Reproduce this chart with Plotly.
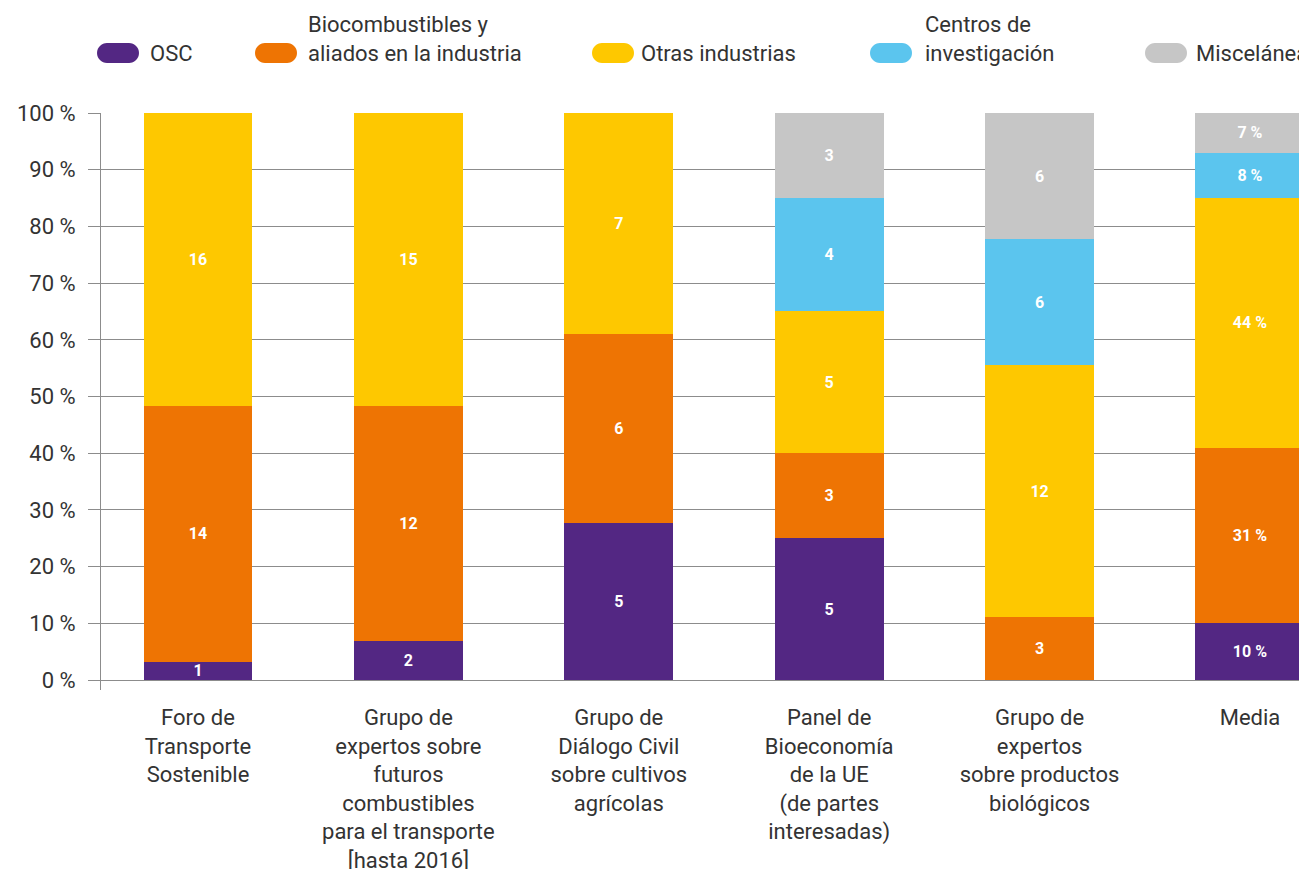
import plotly.graph_objects as go

categories = [
    "Foro de<br>Transporte<br>Sostenible",
    "Grupo de<br>expertos sobre<br>futuros<br>combustibles<br>para el transporte<br>[hasta 2016]",
    "Grupo de<br>Diálogo Civil<br>sobre cultivos<br>agrícolas",
    "Panel de<br>Bioeconomía<br>de la UE<br>(de partes<br>interesadas)",
    "Grupo de<br>expertos<br>sobre productos<br>biológicos",
    "Media",
]
series_names = ["OSC", "Biocombustibles y<br>aliados en la industria", "Otras industrias",
                "Centros de<br>investigación", "Misceláneas"]
osc = [1, 2, 5, 5, 0, 10]
biocombustibles = [14, 12, 6, 3, 3, 31]
otras = [16, 15, 7, 5, 12, 44]
centros = [0, 0, 0, 4, 6, 8]
miscelaneas = [0, 0, 0, 3, 6, 7]
values = [osc, biocombustibles, otras, centros, miscelaneas]
y_ticks = list(range(0, 101, 10))
y_tick_labels = [f"{v} %" for v in y_ticks]
colors = ["#532783", "#EE7403", "#FEC800", "#5BC5EE", "#C6C6C6"]

FONT = "Roboto"
OFF = 8  # page offset of the figure (body margin)
W, H = 1307 - OFF, 869 - OFF
PL, PR, PT, PB = 101 - OFF, 0, 113 - OFF, 179
pw, ph = W - PL - PR, H - PT - PB


def px2paper(x, y):
    # x, y are page pixel coordinates
    return (x - OFF - PL) / pw, (H - PB - (y - OFF)) / ph


def fmt(v, i):
    if v == 0:
        return ""
    return f"{v} %" if i == len(categories) - 1 else str(v)


fig = go.Figure()
xs = list(range(len(categories)))
for name, vals, col in zip(series_names, values, colors):
    fig.add_trace(go.Bar(
        x=xs, y=vals, name=name, marker=dict(color=col, line=dict(width=0)),
        text=[fmt(v, i) for i, v in enumerate(vals)],
        textposition="inside", insidetextanchor="middle", textangle=0,
        textfont=dict(family=FONT, size=16, color="white", weight="bold"),
        constraintext="none", showlegend=False,
    ))

# custom legend (pill markers)
legend_marker_x = [118, 276, 613, 891, 1166]
legend_text_x = [148, 306, 639, 923, 1194]
legend_y = 53
r = 10
half = 11
k = 0.5523 * r
pill = (f"M {-half},{-r} L {half},{-r} C {half + k},{-r} {half + r},{-k} {half + r},0 "
        f"C {half + r},{k} {half + k},{r} {half},{r} L {-half},{r} "
        f"C {-half - k},{r} {-half - r},{k} {-half - r},0 "
        f"C {-half - r},{-k} {-half - k},{-r} {-half},{-r} Z")
shapes = []
annotations = []
for name, col, mx, tx in zip(series_names, colors, legend_marker_x, legend_text_x):
    ax, ay = px2paper(mx, legend_y)
    shapes.append(dict(type="path", xref="paper", yref="paper", xsizemode="pixel",
                       ysizemode="pixel", xanchor=ax, yanchor=ay, path=pill,
                       fillcolor=col, line=dict(width=0)))
    txp, typ = px2paper(tx, legend_y + 15)
    annotations.append(dict(x=txp, y=typ, xref="paper", yref="paper", text=name,
                            showarrow=False, xanchor="left", yanchor="bottom", align="left",
                            font=dict(family=FONT, size=22, color="#333333")))

fig.update_layout(
    width=W, height=H,
    margin=dict(l=PL, r=PR, t=PT, b=PB, pad=0, autoexpand=False),
    barmode="stack", barnorm="percent", bargap=0.482,
    plot_bgcolor="white", paper_bgcolor="white",
    font=dict(family=FONT, size=22, color="#333333"),
    shapes=shapes, annotations=annotations,
    uniformtext=dict(minsize=16, mode="show"),
)
fig.update_xaxes(
    tickvals=xs, ticktext=categories, range=[-0.461, 5.271],
    showgrid=False, zeroline=False, showline=False, ticks="",
    automargin=False, ticklabelstandoff=12,
    tickfont=dict(family=FONT, size=22, color="#333333"),
)
fig.update_yaxes(
    range=[-1.76, 100], tickvals=y_ticks, ticktext=y_tick_labels,
    showgrid=True, gridcolor="#8c8c8c", gridwidth=1, zeroline=False,
    showline=True, linecolor="#8c8c8c", linewidth=1, automargin=False,
    ticks="outside", ticklen=12, tickcolor="#8c8c8c", ticklabelstandoff=8,
    tickfont=dict(family=FONT, size=22, color="#333333"),
)
fig.write_html("out.html")
